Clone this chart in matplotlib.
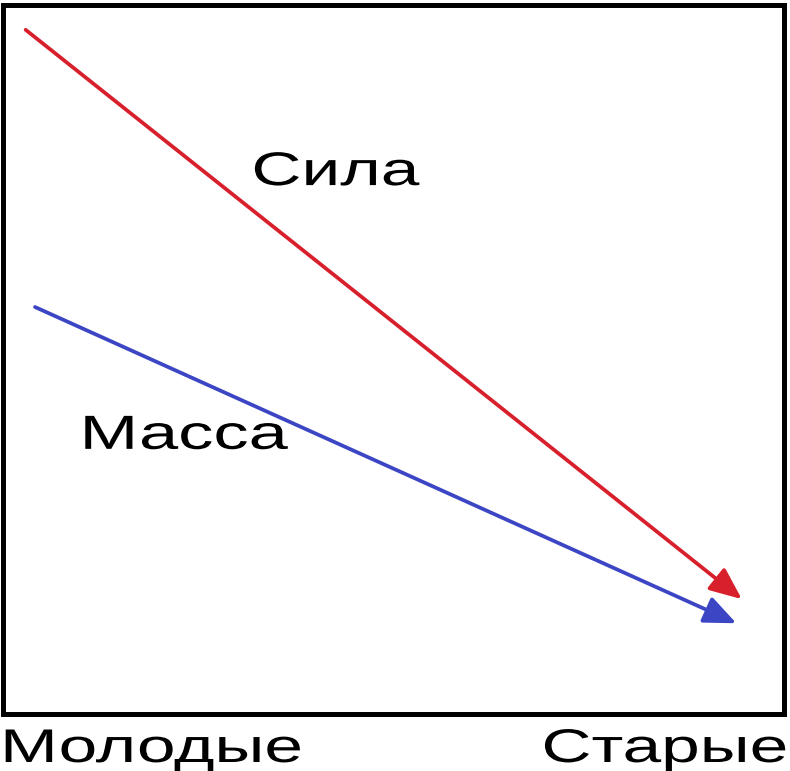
import matplotlib
matplotlib.use("Agg")
import matplotlib.pyplot as plt
from matplotlib.patheffects import AbstractPathEffect
from matplotlib.transforms import Affine2D

plt.rcParams['font.family'] = ['Liberation Sans', 'DejaVu Sans']

# Data (axes units 0..100)
series = ["Сила", "Масса"]
colors = ["#d8202c", "#3c46c4"]
x_start = [2.9, 4.1]
y_start = [96.5, 57.4]
x_end = [94.6, 93.9]
y_end = [16.2, 12.8]
label_x = [31.8, 9.8]
label_y = [74.6, 37.4]
label_size = [34, 34.5]
x_labels = ["Молодые", "Старые"]

SX = 1.47


class Stretch(AbstractPathEffect):
    """Horizontally stretch glyphs around the text origin."""
    def __init__(self, sx):
        super().__init__()
        self.sx = sx

    def draw_path(self, renderer, gc, tpath, affine, rgbFace=None):
        renderer.draw_path(gc, tpath, Affine2D().scale(self.sx, 1) + affine, rgbFace)


fig = plt.figure(figsize=(7.9, 7.71), dpi=100)
ax = fig.add_axes([3/790, 1 - 714/771, 781/790, 709/771])
ax.set_xlim(0, 100)
ax.set_ylim(0, 100)
ax.set_xticks([])
ax.set_yticks([])
for s in ax.spines.values():
    s.set_linewidth(3.6)
    s.set_color("black")

for name, c, xs, ys, xe, ye, lx, ly, fs in zip(series, colors, x_start, y_start,
                                               x_end, y_end, label_x, label_y, label_size):
    ax.annotate("", xy=(xe, ye), xytext=(xs, ys),
                arrowprops=dict(arrowstyle="-|>,head_length=0.7,head_width=0.3",
                                color=c, lw=2.7, mutation_scale=28,
                                shrinkA=0, shrinkB=0))
    ax.text(lx, ly, name, ha="left", va="baseline", fontsize=fs, color="black",
            path_effects=[Stretch(SX)])

t1 = fig.text(0.0, 9/771, x_labels[0], ha="left", va="baseline", fontsize=34,
              path_effects=[Stretch(SX)])
t2 = fig.text(0.5, 9/771, x_labels[1], ha="left", va="baseline", fontsize=34,
              path_effects=[Stretch(SX)])
fig.canvas.draw()
w = t2.get_window_extent().width
t2.set_x((788 - w * SX) / 790)

fig.savefig("out.png", dpi=100)
